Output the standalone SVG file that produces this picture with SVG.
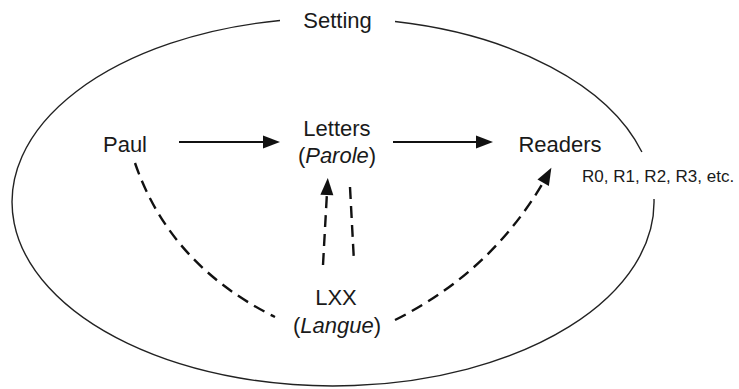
<svg xmlns="http://www.w3.org/2000/svg" width="739" height="389" viewBox="0 0 739 389">
  <defs>
    <style>
      .lbl { font-family: "Liberation Sans", Arial, sans-serif; font-size: 22px; fill: #1a1a1a; text-anchor: middle; }
      .small { font-family: "Liberation Sans", Arial, sans-serif; font-size: 17px; fill: #1a1a1a; }
      .solid { fill: none; stroke: #111; stroke-width: 2.2; }
      .dash { fill: none; stroke: #111; stroke-width: 2.4; stroke-dasharray: 12 7; }
      .frame { fill: none; stroke: #222; stroke-width: 1.4; }
    </style>
    <marker id="ah" markerUnits="userSpaceOnUse" markerWidth="17" markerHeight="13" refX="10" refY="6.5" orient="auto" overflow="visible">
      <path d="M0,0 L17,6.5 L0,13 z" fill="#111"/>
    </marker>
  </defs>
  <rect width="739" height="389" fill="#ffffff"/>

  <g id="setting">
    <path class="frame" d="M395,21.5 A321,184 0 0 1 641.9,152 M654,199 A321,184 0 1 1 280,20.5"/>
    <text class="lbl" x="337.5" y="28">Setting</text>
  </g>

  <g id="paul">
    <text class="lbl" x="125" y="152">Paul</text>
  </g>

  <g id="letters">
    <text class="lbl" x="337" y="136">Letters</text>
    <text class="lbl" x="337" y="163">(<tspan font-style="italic">Parole</tspan>)</text>
  </g>

  <g id="readers">
    <text class="lbl" x="560" y="152">Readers</text>
    <text class="small" x="582" y="182">R0, R1, R2, R3, etc.</text>
  </g>

  <g id="lxx">
    <text class="lbl" x="336" y="305">LXX</text>
    <text class="lbl" x="337" y="333">(<tspan font-style="italic">Langue</tspan>)</text>
  </g>

  <g id="connectors">
    <path class="solid" d="M179,142 L273,142" marker-end="url(#ah)"/>
    <path class="solid" d="M393,142 L486,142" marker-end="url(#ah)"/>
    <path class="dash" d="M323,265 L327.4,185" marker-end="url(#ah)"/>
    <path class="dash" d="M350,187 L354,262"/>
    <path class="dash" d="M135,163 Q170,265 275,317"/>
    <path class="dash" d="M395,320 Q495,270 548,174" marker-end="url(#ah)"/>
  </g>
</svg>
